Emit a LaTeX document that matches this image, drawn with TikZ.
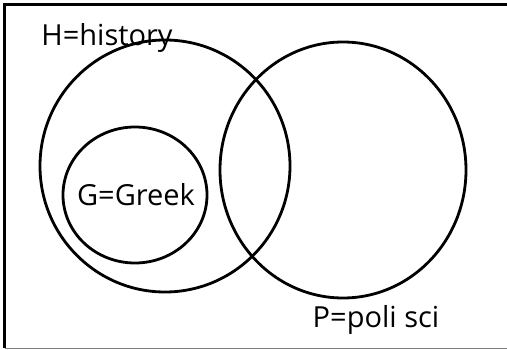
\documentclass[tikz,border=0pt]{standalone}
\usepackage{fontspec}
\setmainfont{Open Sans}
\begin{document}
\begin{tikzpicture}[x=1pt,y=-1pt,
  setline/.style={line width=2.8pt,draw=black},
  setlabel/.style={font=\fontsize{29}{32}\selectfont,inner sep=0pt,anchor=center}]
\useasboundingbox (0,0) rectangle (507,350);
% frame: heavy top and left edges, light bottom rule
\draw[line width=3pt] (4.5,348) -- (4.5,4.5) -- (507,4.5);
\draw[line width=1pt,gray] (4.5,348.5) -- (507,348.5);
% sets
\draw[setline] (165,166) ellipse [x radius=125, y radius=126];
\draw[setline] (343,170) ellipse [x radius=123, y radius=128];
\draw[setline] (135,195) ellipse [x radius=72, y radius=68];
% labels
\node[setlabel] (h) at (107,38) {H=history};
\node[setlabel] (g) at (136,195) {G=Greek};
\node[setlabel] (p) at (376,320) {P=poli sci};
\end{tikzpicture}
\end{document}
